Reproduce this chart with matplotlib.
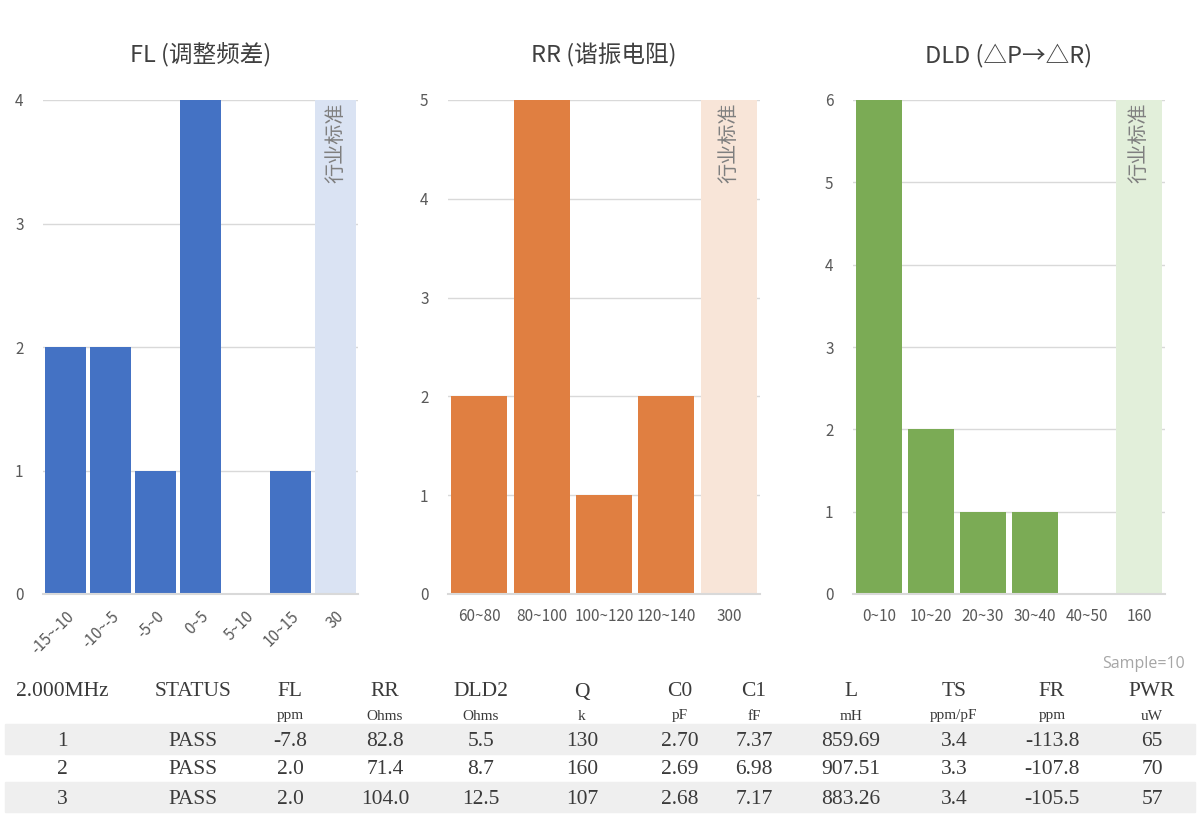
import matplotlib.pyplot as plt
import numpy as np

plt.rcParams['font.family'] = ['Noto Sans CJK SC', 'DejaVu Sans']

# histogram data
fl_bins = ['-15~-10', '-10~-5', '-5~0', '0~5', '5~10', '10~15']
fl_counts = [2, 2, 1, 4, 0, 1]
fl_std = '30'

rr_bins = ['60~80', '80~100', '100~120', '120~140']
rr_counts = [2, 5, 1, 2]
rr_std = '300'

dld_bins = ['0~10', '10~20', '20~30', '30~40', '40~50']
dld_counts = [6, 2, 1, 1, 0]
dld_std = '160'

# table data
col_names = ['2.000MHz', 'STATUS', 'FL', 'RR', 'DLD2', 'Q', 'C0', 'C1', 'L', 'TS', 'FR', 'PWR']
col_units = ['', '', 'ppm', 'Ohms', 'Ohms', 'k', 'pF', 'fF', 'mH', 'ppm/pF', 'ppm', 'uW']
row1 = ['1', 'PASS', '-7.8', '82.8', '5.5', '130', '2.70', '7.37', '859.69', '3.4', '-113.8', '65']
row2 = ['2', 'PASS', '2.0', '71.4', '8.7', '160', '2.69', '6.98', '907.51', '3.3', '-107.8', '70']
row3 = ['3', 'PASS', '2.0', '104.0', '12.5', '107', '2.68', '7.17', '883.26', '3.4', '-105.5', '57']

W, H = 1200, 818
fig = plt.figure(figsize=(12, 8.18), dpi=100)

panels = [
    ('FL (调整频差)', fl_bins, fl_counts, fl_std, '#4472C4', '#DAE3F3', 43, 358, 4, 45),
    ('RR (谐振电阻)', rr_bins, rr_counts, rr_std, '#E07F41', '#F8E5D8', 448, 760, 5, 0),
    ('DLD (△P→△R)', dld_bins, dld_counts, dld_std, '#7BAB55', '#E2EFDA', 853, 1165, 6, 0),
]

for title, bins, counts, std, col, band_col, x0, x1, ymax, rot in panels:
    ax = fig.add_axes([x0 / W, 1 - 594 / H, (x1 - x0) / W, (594 - 100) / H])
    n = len(bins)
    x = np.arange(n)
    ax.bar(x, counts, width=0.9, color=col, zorder=3)
    ax.bar(n, ymax, width=0.9, color=band_col, zorder=2)
    ax.text(n, ymax - 0.005 * ymax, '行业标准', rotation=90, ha='center', va='top',
            color='#7f7f7f', fontsize=14.5, zorder=4)
    ax.set_xlim(-0.5, n + 0.5)
    ax.set_ylim(0, ymax)
    ax.set_yticks(range(ymax + 1))
    ax.grid(axis='y', color='#d9d9d9', linewidth=1, zorder=0)
    for s in ['top', 'right', 'left']:
        ax.spines[s].set_visible(False)
    ax.spines['bottom'].set_color('#d9d9d9')
    ax.spines['bottom'].set_linewidth(1.5)
    ax.spines['bottom'].set_zorder(5)
    ax.set_xticks(list(x) + [n])
    if rot:
        ax.set_xticklabels(bins + [std], rotation=rot, ha='right', rotation_mode='anchor')
    else:
        ax.set_xticklabels(bins + [std])
    ax.tick_params(axis='both', length=0, labelsize=11, labelcolor='#595959')
    ax.tick_params(axis='y', pad=14)
    ax.tick_params(axis='x', pad=10)
    fig.text((x0 + x1) / 2 / W, 1 - 55 / H, title, ha='center', va='center',
             fontsize=17, color='#404040')

# table
serif = 'Liberation Serif'
col_x = [62, 193, 290, 385, 481, 582, 680, 754, 851, 954, 1052, 1152]
fig.text(1185 / W, 1 - 664 / H, 'Sample=10', ha='right', va='center', fontsize=11.5,
         color='#a6a6a6', family=['Open Sans', 'DejaVu Sans'])

for yt, yb in [(724, 754), (782, 812)]:
    fig.patches.append(plt.Rectangle((5 / W, 1 - yb / H), 1190 / W, (yb - yt) / H,
                                     transform=fig.transFigure, color='#efefef', zorder=0))

for i in range(len(col_names)):
    fig.text(col_x[i] / W, 1 - 692 / H, col_names[i], ha='center', va='center',
             fontsize=15.5, family=serif, color='#3a3a3a')
    fig.text(col_x[i] / W, 1 - 716 / H, col_units[i], ha='center', va='center',
             fontsize=11, family=serif, color='#3a3a3a')
    for row, yy in [(row1, 742), (row2, 770), (row3, 799)]:
        fig.text(col_x[i] / W, 1 - yy / H, row[i], ha='center', va='center',
                 fontsize=15.5, family=serif, color='#3a3a3a')

fig.savefig('out.png', dpi=100)
